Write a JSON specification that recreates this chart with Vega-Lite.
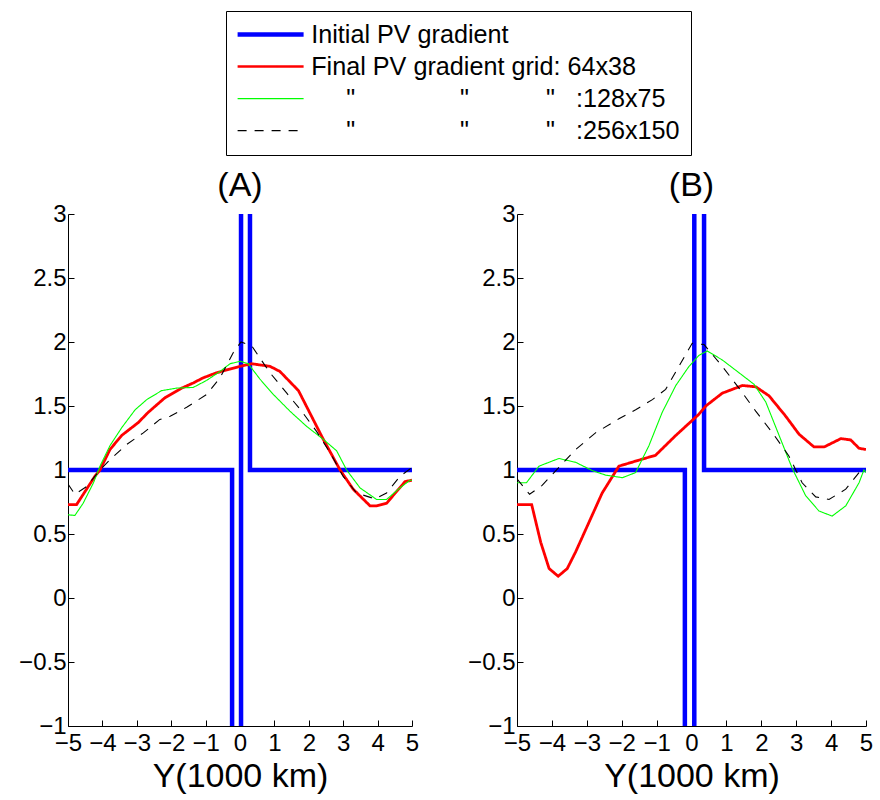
{
  "$schema": "https://vega.github.io/schema/vega-lite/v6.json",
  "padding": {"left": 18, "top": 10, "right": 5, "bottom": 5},
  "bounds": "flush",
  "spacing": 105,
  "config": {
    "view": {"stroke": null},
    "font": "Liberation Sans",
    "axis": {
      "domainColor": "#000", "tickColor": "#000", "labelColor": "#000", "titleColor": "#000",
      "labelFont": "Liberation Sans", "labelFontSize": 24, "titleFont": "Liberation Sans",
      "titleFontSize": 34, "titleFontWeight": "normal", "grid": false, "tickSize": -6,
      "labelPadding": 8, "labelFlush": false, "labelOverlap": false, "domainWidth": 1, "tickWidth": 1
    },
    "title": {"font": "Liberation Sans", "fontSize": 34, "fontWeight": "normal", "color": "#000", "offset": -1, "anchor": "middle"},
    "legend": {
      "orient": "none", "legendX": 158, "legendY": -203,
      "labelFont": "Liberation Sans", "labelFontSize": 25.2, "labelColor": "#000", "labelLimit": 600,
      "symbolType": "M-12,0H54", "symbolSize": 4, "labelOffset": 49, "padding": 11, "rowPadding": 6,
      "strokeColor": "#000", "fillColor": "#fff"
    }
  },
  "datasets": {
    "A": [
      {"s":"init","x":-5,"y":1},{"s":"init","x":-0.23,"y":1},{"s":"init","x":-0.23,"y":-1.6},{"s":"init","x":0.03,"y":-1.6},{"s":"init","x":0.03,"y":3.6},{"s":"init","x":0.29,"y":3.6},{"s":"init","x":0.29,"y":1},{"s":"init","x":5,"y":1},
      {"s":"f64","x":-5,"y":0.73},{"s":"f64","x":-4.75,"y":0.73},{"s":"f64","x":-4.22,"y":0.95},{"s":"f64","x":-4.07,"y":1.0},{"s":"f64","x":-3.78,"y":1.16},{"s":"f64","x":-3.44,"y":1.27},{"s":"f64","x":-2.96,"y":1.37},{"s":"f64","x":-2.67,"y":1.45},{"s":"f64","x":-2.18,"y":1.565},{"s":"f64","x":-1.69,"y":1.64},{"s":"f64","x":-1.36,"y":1.68},{"s":"f64","x":-1.07,"y":1.72},{"s":"f64","x":-0.68,"y":1.76},{"s":"f64","x":0,"y":1.81},{"s":"f64","x":0.34,"y":1.83},{"s":"f64","x":0.87,"y":1.81},{"s":"f64","x":1.16,"y":1.77},{"s":"f64","x":1.7,"y":1.62},{"s":"f64","x":2.42,"y":1.24},{"s":"f64","x":2.91,"y":1.0},{"s":"f64","x":3.29,"y":0.85},{"s":"f64","x":3.78,"y":0.72},{"s":"f64","x":3.97,"y":0.72},{"s":"f64","x":4.26,"y":0.74},{"s":"f64","x":4.8,"y":0.91},{"s":"f64","x":5,"y":0.92},
      {"s":"f128","x":-5,"y":0.65},{"s":"f128","x":-4.8,"y":0.645},{"s":"f128","x":-4.56,"y":0.74},{"s":"f128","x":-4.26,"y":0.9},{"s":"f128","x":-4.07,"y":1.03},{"s":"f128","x":-3.78,"y":1.19},{"s":"f128","x":-3.44,"y":1.33},{"s":"f128","x":-3.05,"y":1.47},{"s":"f128","x":-2.71,"y":1.55},{"s":"f128","x":-2.28,"y":1.62},{"s":"f128","x":-1.84,"y":1.64},{"s":"f128","x":-1.36,"y":1.645},{"s":"f128","x":-0.97,"y":1.7},{"s":"f128","x":-0.58,"y":1.77},{"s":"f128","x":-0.29,"y":1.83},{"s":"f128","x":0,"y":1.85},{"s":"f128","x":0.24,"y":1.83},{"s":"f128","x":0.58,"y":1.71},{"s":"f128","x":0.97,"y":1.59},{"s":"f128","x":1.45,"y":1.46},{"s":"f128","x":1.94,"y":1.34},{"s":"f128","x":2.42,"y":1.24},{"s":"f128","x":2.81,"y":1.15},{"s":"f128","x":3.1,"y":1.0},{"s":"f128","x":3.49,"y":0.86},{"s":"f128","x":3.97,"y":0.77},{"s":"f128","x":4.26,"y":0.77},{"s":"f128","x":4.65,"y":0.86},{"s":"f128","x":4.94,"y":0.92},{"s":"f128","x":5,"y":0.92},
      {"s":"f256","x":-5,"y":0.89},{"s":"f256","x":-4.8,"y":0.81},{"s":"f256","x":-4.46,"y":0.87},{"s":"f256","x":-4.07,"y":1.0},{"s":"f256","x":-3.78,"y":1.08},{"s":"f256","x":-3.29,"y":1.2},{"s":"f256","x":-2.81,"y":1.29},{"s":"f256","x":-2.33,"y":1.395},{"s":"f256","x":-2.03,"y":1.42},{"s":"f256","x":-1.55,"y":1.49},{"s":"f256","x":-0.97,"y":1.59},{"s":"f256","x":-0.58,"y":1.72},{"s":"f256","x":-0.19,"y":1.92},{"s":"f256","x":0.03,"y":2.0},{"s":"f256","x":0.34,"y":1.97},{"s":"f256","x":0.87,"y":1.76},{"s":"f256","x":1.36,"y":1.6},{"s":"f256","x":1.79,"y":1.46},{"s":"f256","x":2.23,"y":1.3},{"s":"f256","x":2.62,"y":1.135},{"s":"f256","x":3.0,"y":0.95},{"s":"f256","x":3.39,"y":0.82},{"s":"f256","x":3.92,"y":0.775},{"s":"f256","x":4.26,"y":0.82},{"s":"f256","x":4.65,"y":0.95},{"s":"f256","x":5,"y":1.02}
    ],
    "B": [
      {"s":"init","x":-5,"y":1},{"s":"init","x":-0.19,"y":1},{"s":"init","x":-0.19,"y":-1.6},{"s":"init","x":0.08,"y":-1.6},{"s":"init","x":0.08,"y":3.6},{"s":"init","x":0.36,"y":3.6},{"s":"init","x":0.36,"y":1},{"s":"init","x":5,"y":1},
      {"s":"f64","x":-5,"y":0.73},{"s":"f64","x":-4.58,"y":0.73},{"s":"f64","x":-4.32,"y":0.435},{"s":"f64","x":-4.08,"y":0.23},{"s":"f64","x":-3.82,"y":0.17},{"s":"f64","x":-3.56,"y":0.23},{"s":"f64","x":-3.32,"y":0.36},{"s":"f64","x":-2.94,"y":0.59},{"s":"f64","x":-2.56,"y":0.82},{"s":"f64","x":-2.08,"y":1.03},{"s":"f64","x":-1.41,"y":1.085},{"s":"f64","x":-1.03,"y":1.115},{"s":"f64","x":-0.45,"y":1.27},{"s":"f64","x":0.21,"y":1.435},{"s":"f64","x":0.41,"y":1.5},{"s":"f64","x":0.88,"y":1.6},{"s":"f64","x":1.46,"y":1.66},{"s":"f64","x":1.84,"y":1.65},{"s":"f64","x":2.22,"y":1.58},{"s":"f64","x":2.7,"y":1.42},{"s":"f64","x":3.08,"y":1.28},{"s":"f64","x":3.51,"y":1.18},{"s":"f64","x":3.8,"y":1.18},{"s":"f64","x":4.28,"y":1.245},{"s":"f64","x":4.56,"y":1.235},{"s":"f64","x":4.8,"y":1.17},{"s":"f64","x":5,"y":1.16},
      {"s":"f128","x":-5,"y":0.9},{"s":"f128","x":-4.73,"y":0.9},{"s":"f128","x":-4.37,"y":1.03},{"s":"f128","x":-3.8,"y":1.09},{"s":"f128","x":-3.32,"y":1.06},{"s":"f128","x":-2.84,"y":0.995},{"s":"f128","x":-2.46,"y":0.96},{"s":"f128","x":-1.98,"y":0.94},{"s":"f128","x":-1.6,"y":0.98},{"s":"f128","x":-1.22,"y":1.19},{"s":"f128","x":-0.84,"y":1.45},{"s":"f128","x":-0.45,"y":1.66},{"s":"f128","x":-0.07,"y":1.81},{"s":"f128","x":0.21,"y":1.895},{"s":"f128","x":0.45,"y":1.93},{"s":"f128","x":0.88,"y":1.86},{"s":"f128","x":1.36,"y":1.76},{"s":"f128","x":1.79,"y":1.67},{"s":"f128","x":2.13,"y":1.53},{"s":"f128","x":2.51,"y":1.27},{"s":"f128","x":2.89,"y":1.01},{"s":"f128","x":3.27,"y":0.8},{"s":"f128","x":3.65,"y":0.68},{"s":"f128","x":4.03,"y":0.64},{"s":"f128","x":4.42,"y":0.72},{"s":"f128","x":4.8,"y":0.9},{"s":"f128","x":4.94,"y":1.0},{"s":"f128","x":5,"y":0.98},
      {"s":"f256","x":-5,"y":0.93},{"s":"f256","x":-4.64,"y":0.81},{"s":"f256","x":-4.28,"y":0.88},{"s":"f256","x":-3.8,"y":1.02},{"s":"f256","x":-3.32,"y":1.16},{"s":"f256","x":-2.75,"y":1.29},{"s":"f256","x":-2.08,"y":1.4},{"s":"f256","x":-1.6,"y":1.47},{"s":"f256","x":-1.12,"y":1.55},{"s":"f256","x":-0.74,"y":1.63},{"s":"f256","x":-0.36,"y":1.81},{"s":"f256","x":0.02,"y":1.99},{"s":"f256","x":0.36,"y":1.98},{"s":"f256","x":0.88,"y":1.81},{"s":"f256","x":1.36,"y":1.64},{"s":"f256","x":1.84,"y":1.46},{"s":"f256","x":2.32,"y":1.29},{"s":"f256","x":2.79,"y":1.11},{"s":"f256","x":3.17,"y":0.9},{"s":"f256","x":3.56,"y":0.79},{"s":"f256","x":3.94,"y":0.77},{"s":"f256","x":4.42,"y":0.85},{"s":"f256","x":4.8,"y":0.98},{"s":"f256","x":5,"y":1.01}
    ]
  },
  "hconcat": [
    {
      "title": "(A)",
      "width": 344, "height": 512,
      "data": {"name": "A"},
      "mark": {"type": "line", "clip": true},
      "encoding": {
        "x": {"field": "x", "type": "quantitative", "scale": {"domain": [-5, 5], "nice": false, "zero": false}, "axis": {"values": [-5,-4,-3,-2,-1,0,1,2,3,4,5], "format": "d", "title": "Y(1000 km)", "labelPadding": 11, "titlePadding": 4}},
        "y": {"field": "y", "type": "quantitative", "scale": {"domain": [-1, 3], "nice": false, "zero": false}, "axis": {"values": [-1,-0.5,0,0.5,1,1.5,2,2.5,3], "format": "~g", "title": null}},
        "color": {"field": "s", "type": "nominal", "scale": {"domain": ["init","f64","f128","f256"], "range": ["#0000ff","#ff0000","#00ff00","#000000"]},
          "legend": {"title": null, "labelExpr": "datum.value === 'init' ? 'Initial PV gradient' : datum.value === 'f64' ? 'Final PV gradient grid: 64x38' : datum.value === 'f128' ? '\u200b\u00a0\u00a0\u00a0\u00a0\u00a0\"\u00a0\u00a0\u00a0\u00a0\u00a0\u00a0\u00a0\u00a0\u00a0\u00a0\u00a0\u00a0\u00a0\u00a0\u00a0\"\u00a0\u00a0\u00a0\u00a0\u00a0\u00a0\u00a0\u00a0\u00a0\u00a0\u00a0\"\u00a0\u00a0\u00a0:128x75' : '\u200b\u00a0\u00a0\u00a0\u00a0\u00a0\"\u00a0\u00a0\u00a0\u00a0\u00a0\u00a0\u00a0\u00a0\u00a0\u00a0\u00a0\u00a0\u00a0\u00a0\u00a0\"\u00a0\u00a0\u00a0\u00a0\u00a0\u00a0\u00a0\u00a0\u00a0\u00a0\u00a0\"\u00a0\u00a0\u00a0:256x150'",
            "encode": {"symbols": {"update": {"strokeWidth": {"signal": "datum.value === 'init' ? 4.5 : datum.value === 'f64' ? 2.5 : 1.2"}}}}}},
        "strokeDash": {"field": "s", "type": "nominal", "scale": {"domain": ["init","f64","f128","f256"], "range": [[1,0],[1,0],[1,0],[9,8]]},
          "legend": {"title": null, "labelExpr": "datum.value === 'init' ? 'Initial PV gradient' : datum.value === 'f64' ? 'Final PV gradient grid: 64x38' : datum.value === 'f128' ? '\u200b\u00a0\u00a0\u00a0\u00a0\u00a0\"\u00a0\u00a0\u00a0\u00a0\u00a0\u00a0\u00a0\u00a0\u00a0\u00a0\u00a0\u00a0\u00a0\u00a0\u00a0\"\u00a0\u00a0\u00a0\u00a0\u00a0\u00a0\u00a0\u00a0\u00a0\u00a0\u00a0\"\u00a0\u00a0\u00a0:128x75' : '\u200b\u00a0\u00a0\u00a0\u00a0\u00a0\"\u00a0\u00a0\u00a0\u00a0\u00a0\u00a0\u00a0\u00a0\u00a0\u00a0\u00a0\u00a0\u00a0\u00a0\u00a0\"\u00a0\u00a0\u00a0\u00a0\u00a0\u00a0\u00a0\u00a0\u00a0\u00a0\u00a0\"\u00a0\u00a0\u00a0:256x150'",
            "encode": {"symbols": {"update": {"strokeWidth": {"signal": "datum.value === 'init' ? 4.5 : datum.value === 'f64' ? 2.5 : 1.2"}}}}}},
        "strokeWidth": {"condition": [{"test": "datum.s === 'init'", "value": 4.5}, {"test": "datum.s === 'f64'", "value": 2.8}], "value": 1.1},
        "order": {"value": null}
      }
    },
    {
      "title": "(B)",
      "width": 349, "height": 512,
      "data": {"name": "B"},
      "mark": {"type": "line", "clip": true},
      "encoding": {
        "x": {"field": "x", "type": "quantitative", "scale": {"domain": [-5, 5], "nice": false, "zero": false}, "axis": {"values": [-5,-4,-3,-2,-1,0,1,2,3,4,5], "format": "d", "title": "Y(1000 km)", "labelPadding": 11, "titlePadding": 4}},
        "y": {"field": "y", "type": "quantitative", "scale": {"domain": [-1, 3], "nice": false, "zero": false}, "axis": {"values": [-1,-0.5,0,0.5,1,1.5,2,2.5,3], "format": "~g", "title": null}},
        "color": {"field": "s", "type": "nominal", "scale": {"domain": ["init","f64","f128","f256"], "range": ["#0000ff","#ff0000","#00ff00","#000000"]}, "legend": null},
        "strokeDash": {"field": "s", "type": "nominal", "scale": {"domain": ["init","f64","f128","f256"], "range": [[1,0],[1,0],[1,0],[9,8]]}, "legend": null},
        "strokeWidth": {"condition": [{"test": "datum.s === 'init'", "value": 4.5}, {"test": "datum.s === 'f64'", "value": 2.8}], "value": 1.1},
        "order": {"value": null}
      }
    }
  ]
}
